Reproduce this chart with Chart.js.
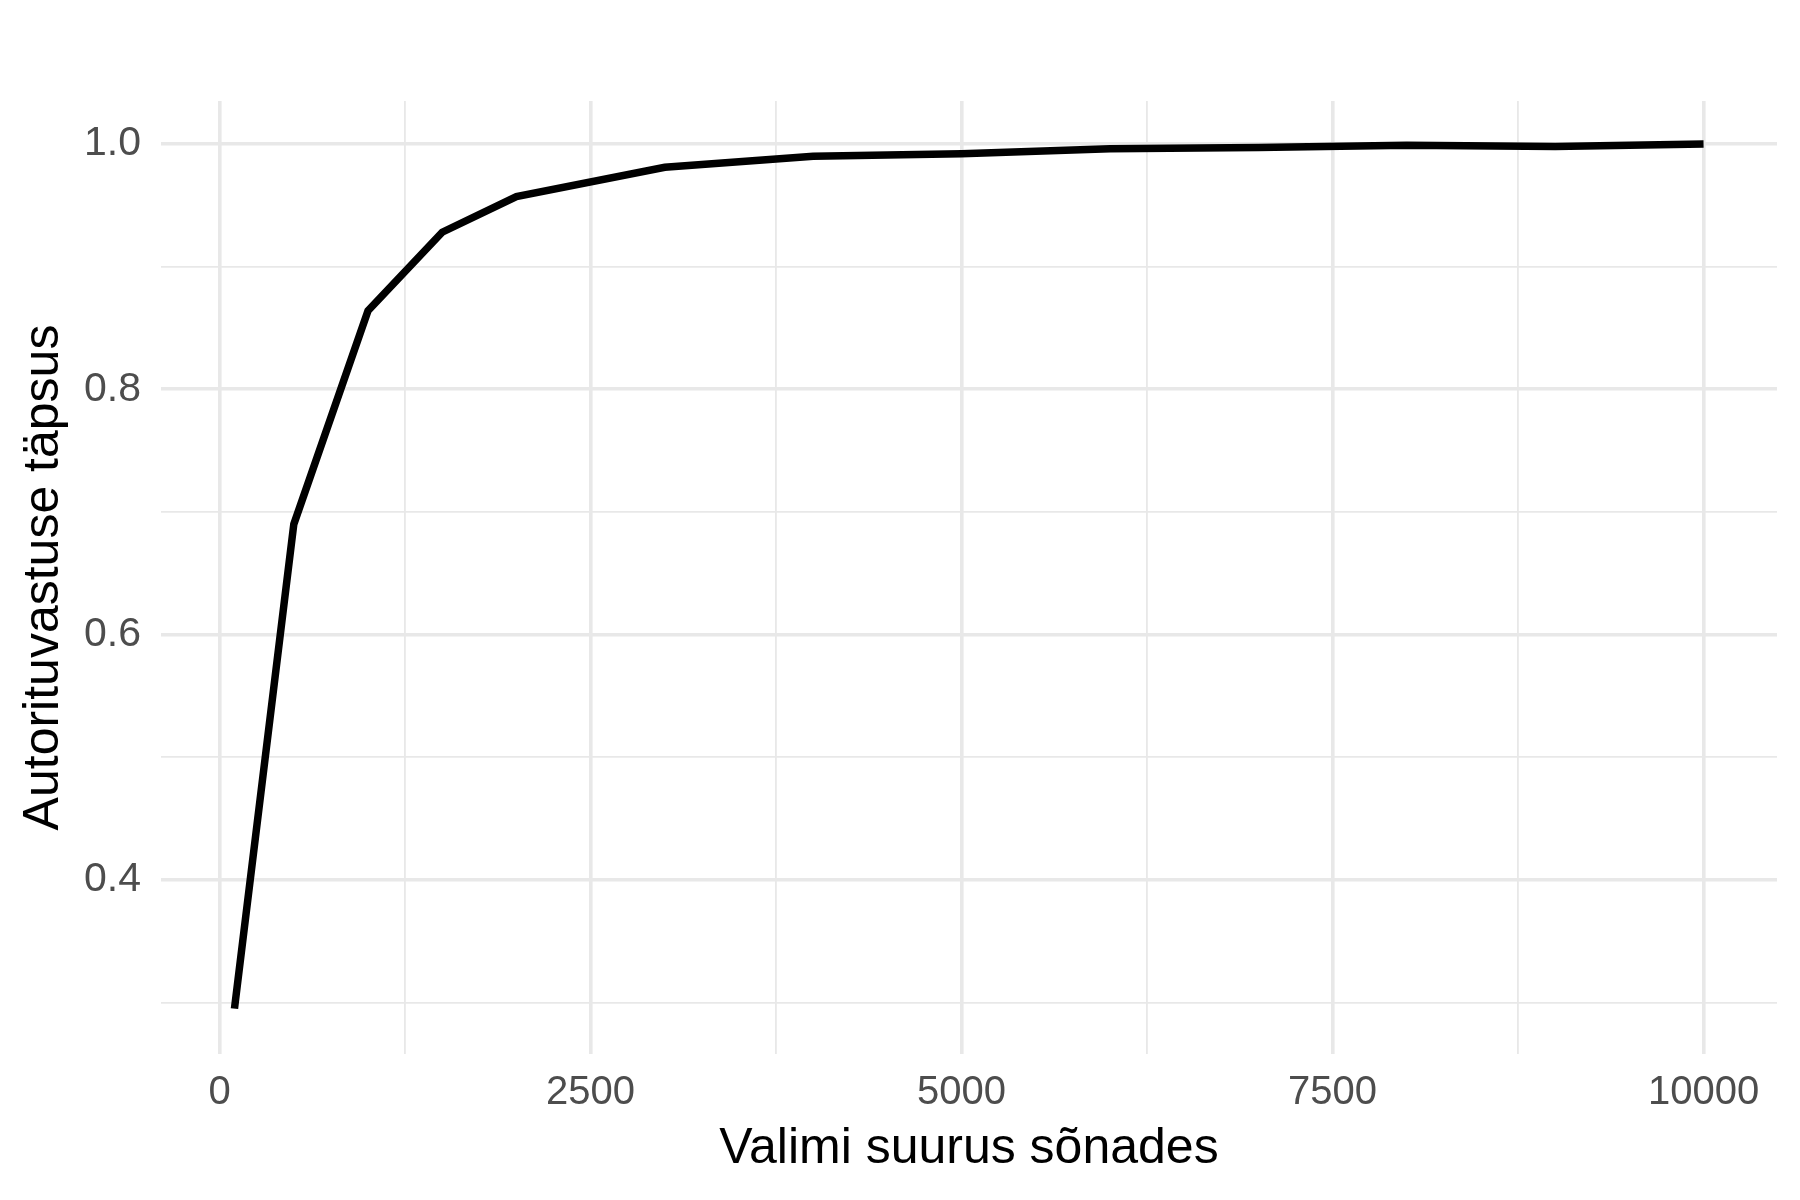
<!DOCTYPE html>
<html lang="et">
<head>
    <meta charset="UTF-8" />
    <title>Autorituvastuse täpsus</title>
    <script src="https://cdn.jsdelivr.net/npm/chart.js"></script>
    <style>
        html, body { margin: 0; padding: 0; background: #ffffff; }
        #wrap { width: 1800px; height: 1200px; }
    </style>
</head>
<body>
    <div id="wrap"><canvas id="chart" width="1800" height="1200"></canvas></div>

    <script>
        // Data
        const sampleSizes = [100, 500, 1000, 1500, 2000, 3000, 4000, 5000, 6000, 7000, 8000, 9000, 10000];
        const accuracy = [0.295, 0.690, 0.864, 0.928, 0.957, 0.981, 0.990, 0.992, 0.996, 0.997, 0.999, 0.998, 1.0];

        // Gridline / tick positions (labelled ones are the majors)
        const xTicks = [0, 1250, 2500, 3750, 5000, 6250, 7500, 8750, 10000];
        const xMajor = [0, 2500, 5000, 7500, 10000];
        const yTicks = [0.3, 0.4, 0.5, 0.6, 0.7, 0.8, 0.9, 1.0];
        const yMajor = [0.4, 0.6, 0.8, 1.0];

        const xTitle = 'Valimi suurus sõnades';
        const yTitle = 'Autorituvastuse täpsus';

        const FONT = "'Liberation Sans', Arial, sans-serif";
        const isMajor = (list, v) => list.some(m => Math.abs(m - v) < 1e-6);

        const points = sampleSizes.map((x, i) => ({ x: x, y: accuracy[i] }));

        new Chart(document.getElementById('chart').getContext('2d'), {
            type: 'line',
            data: {
                datasets: [{
                    data: points,
                    borderColor: '#000000',
                    borderWidth: 7.5,
                    pointRadius: 0,
                    tension: 0,
                    borderCapStyle: 'butt',
                    borderJoinStyle: 'miter',
                    fill: false
                }]
            },
            options: {
                responsive: false,
                animation: false,
                devicePixelRatio: 1,
                layout: { padding: { left: 0, right: 23, top: 101, bottom: 0 } },
                plugins: {
                    legend: { display: false },
                    tooltip: { enabled: false }
                },
                scales: {
                    x: {
                        type: 'linear',
                        min: -395,
                        max: 10495,
                        afterBuildTicks: s => { s.ticks = xTicks.map(v => ({ value: v })); },
                        afterFit: s => { s.height = 146; },
                        border: { display: false },
                        grid: {
                            drawTicks: false,
                            color: '#e8e8e8',
                            lineWidth: ctx => isMajor(xMajor, ctx.tick.value) ? 3.6 : 1.8
                        },
                        ticks: {
                            autoSkip: false,
                            maxRotation: 0,
                            padding: 15,
                            color: '#4d4d4d',
                            font: { family: FONT, size: 40 },
                            callback: v => isMajor(xMajor, v) ? String(v) : ''
                        },
                        title: {
                            display: true,
                            text: xTitle,
                            color: '#000000',
                            font: { family: FONT, size: 50 },
                            padding: { top: 0, bottom: 21 }
                        }
                    },
                    y: {
                        type: 'linear',
                        min: 0.258,
                        max: 1.035,
                        afterBuildTicks: s => { s.ticks = yTicks.map(v => ({ value: v })); },
                        afterFit: s => { s.width = 161; },
                        border: { display: false },
                        grid: {
                            drawTicks: false,
                            color: '#e8e8e8',
                            lineWidth: ctx => isMajor(yMajor, ctx.tick.value) ? 3.6 : 1.8
                        },
                        ticks: {
                            autoSkip: false,
                            padding: 20,
                            color: '#4d4d4d',
                            font: { family: FONT, size: 41 },
                            callback: v => isMajor(yMajor, v) ? v.toFixed(1) : ''
                        },
                        title: {
                            display: true,
                            text: yTitle,
                            color: '#000000',
                            font: { family: FONT, size: 50 },
                            padding: { top: 14, bottom: 0 }
                        }
                    }
                }
            }
        });
    </script>
</body>
</html>
